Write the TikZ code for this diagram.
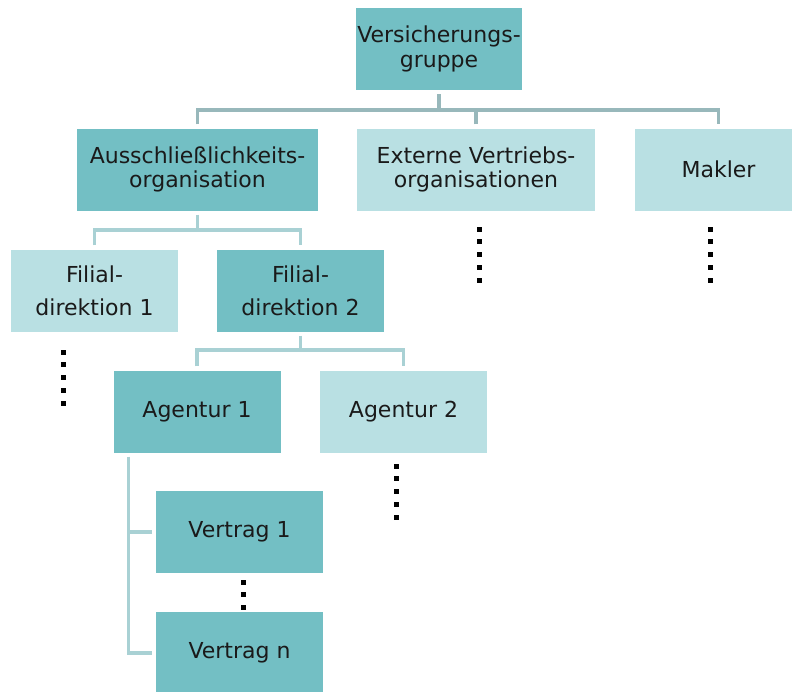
\documentclass[tikz,border=0pt]{standalone}
\usepackage{fontspec}
\setmainfont{DejaVu Sans}
\usetikzlibrary{calc}

\definecolor{tealdark}{RGB}{115,191,196}
\definecolor{teallight}{RGB}{185,224,227}
\definecolor{linegrey}{RGB}{152,184,187}
\definecolor{linelight}{RGB}{169,209,212}
\definecolor{textdark}{RGB}{26,26,26}

\tikzset{
	orgbox/.style={minimum width=167pt, minimum height=82pt, inner sep=0pt,
		align=center, text=textdark, font=\fontsize{22}{24.5}\selectfont},
	darkbox/.style={orgbox, fill=tealdark},
	lightbox/.style={orgbox, fill=teallight},
	twoline/.style={execute at begin node={\rule{0pt}{22pt}}},
	widespace/.style={font=\fontsize{22}{33}\selectfont},
	topline/.style={draw=linegrey, line width=3.5pt},
	subline/.style={draw=linelight, line width=3.5pt},
}

% column of square dots: x, first y, count
\newcommand{\dotcolumn}[3]{%
	\foreach \k in {1,...,#3}
		\fill[black] ({#1-2.5},{#2+12.75*(\k-1)-2.5}) rectangle ++(5,5);%
}

\begin{document}
\begin{tikzpicture}[x=1pt, y=-1pt]
		\clip(0, 0) rectangle (792, 691);

		\node[darkbox, twoline, minimum width=166pt] (grp) at(439, 49){Versicherungs-\\gruppe};

		\node[darkbox, twoline, minimum width=241pt] (aus) at(197.5, 169.5){Ausschließlichkeits-\\organisation};
		\node[lightbox, twoline, minimum width=238pt] (ext) at(476, 169.5){Externe Vertriebs-\\organisationen};
		\node[lightbox] (mak) at(718.5, 169.5){Makler};

		\node[lightbox, widespace] (fd1) at(94.5, 290.5){Filial-\\direktion 1};
		\node[darkbox, widespace] (fd2) at(300.5, 290.5){Filial-\\direktion 2};

		\node[darkbox] (ag1) at(197, 411.5){Agentur 1};
		\node[lightbox] (ag2) at(403.5, 411.5){Agentur 2};

		\node[darkbox] (v1) at(239.5, 532){Vertrag 1};
		\node[darkbox] (vn) at(239.5, 653){Vertrag n};

		\coordinate (bus1) at(0, 110);
		\coordinate (bus2) at(0, 230);
		\coordinate (bus3) at(0, 350);
		\coordinate (spine) at([xshift=15pt, yshift=-4pt]ag1.south west);

		% top level
		\draw[topline]([yshift=-4pt]grp.south) -- (grp.south |- bus1);
		\draw[topline]([yshift=4pt]aus.north) |- (bus1 -| mak.north) -- ([yshift=4pt]mak.north);
		\draw[topline]([yshift=4pt]ext.north) -- (ext.north |- bus1);

		% filialdirektionen
		\draw[subline]([yshift=-4pt]aus.south) -- (aus.south |- bus2);
		\draw[subline]([yshift=4pt]fd1.north) |- (bus2 -| fd2.north) -- ([yshift=4pt]fd2.north);

		% agenturen
		\draw[subline]([yshift=-4pt]fd2.south) -- (fd2.south |- bus3);
		\draw[subline]([yshift=4pt]ag1.north) |- (bus3 -| ag2.north) -- ([yshift=4pt]ag2.north);

		% vertraege
		\draw[subline](spine) |- ([xshift=-4pt]vn.west);
		\draw[subline]([xshift=-4pt]v1.west) -- (spine |- v1.west);

		\dotcolumn{479}{229}{5}
		\dotcolumn{710}{229}{5}
		\dotcolumn{63}{352}{5}
		\dotcolumn{396}{466}{5}
		\dotcolumn{243}{582}{3}
	\end{tikzpicture}
\end{document}
